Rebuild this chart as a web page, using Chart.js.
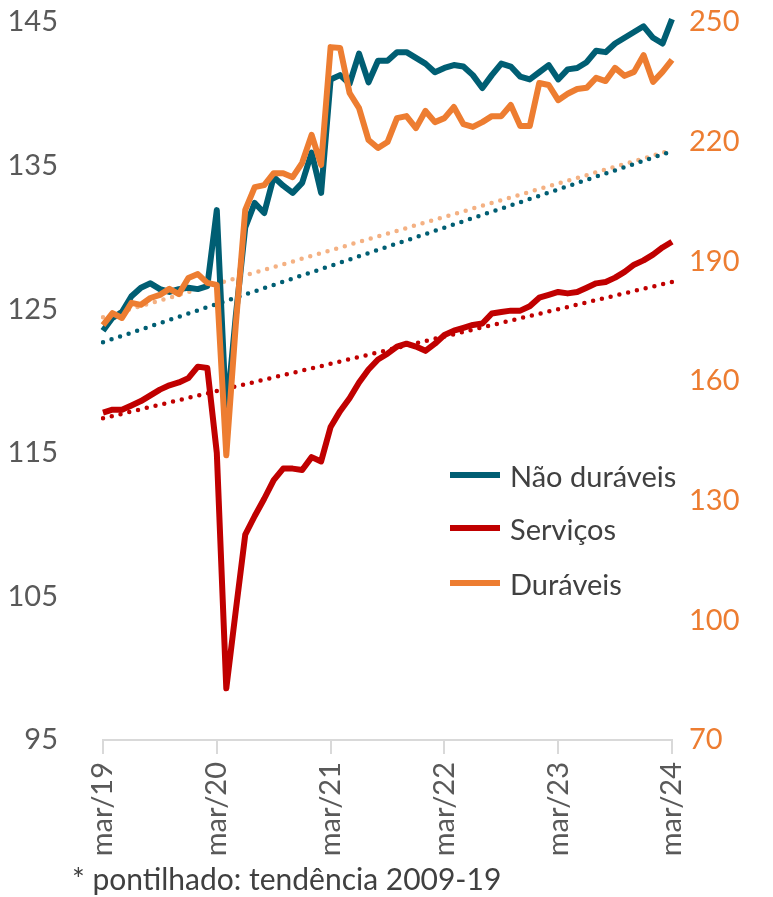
<!DOCTYPE html>
<html lang="pt">
<head>
<meta charset="utf-8">
<title>Consumo por tipo</title>
<script src="https://cdn.jsdelivr.net/npm/chart.js@4.4.1/dist/chart.umd.min.js"></script>
<style>
  body { margin: 0; background: #fff; }
  #wrap { position: relative; width: 773px; height: 897px; }
  #chart { position: absolute; left: 0; top: 0; }
  .legend-item {
    position: absolute; left: 450px; height: 40px;
    display: flex; align-items: center;
    font-family: Lato, sans-serif; font-size: 29px; color: #404040;
  }
  .legend-item .swatch { width: 50px; height: 6px; margin-right: 10px; }
  #note {
    position: absolute; left: 72px; top: 860px;
    font-family: Lato, sans-serif; font-size: 30px; color: #404040;
    white-space: nowrap;
  }
</style>
</head>
<body>
<div id="wrap">
  <canvas id="chart" width="773" height="897"></canvas>
  <div class="legend-item" style="top:455px"><span class="swatch" style="background:#005E73"></span>Não duráveis</div>
  <div class="legend-item" style="top:508px"><span class="swatch" style="background:#C00000"></span>Serviços</div>
  <div class="legend-item" style="top:563px"><span class="swatch" style="background:#ED7D31"></span>Duráveis</div>
  <div id="note">* pontilhado: tendência 2009-19</div>
</div>
<script>
// months mar/19 .. mar/24
const categories = [
  'mar/19','abr/19','mai/19','jun/19','jul/19','ago/19','set/19','out/19','nov/19','dez/19','jan/20','fev/20',
  'mar/20','abr/20','mai/20','jun/20','jul/20','ago/20','set/20','out/20','nov/20','dez/20','jan/21','fev/21',
  'mar/21','abr/21','mai/21','jun/21','jul/21','ago/21','set/21','out/21','nov/21','dez/21','jan/22','fev/22',
  'mar/22','abr/22','mai/22','jun/22','jul/22','ago/22','set/22','out/22','nov/22','dez/22','jan/23','fev/23',
  'mar/23','abr/23','mai/23','jun/23','jul/23','ago/23','set/23','out/23','nov/23','dez/23','jan/24','fev/24',
  'mar/24'
];

// left axis
const naoDuraveis = [
  123.5, 124.4, 124.8, 125.9, 126.5, 126.8, 126.4, 126.2, 126.4, 126.5, 126.4, 126.6,
  131.9, 117.5, 124.5, 130.7, 132.4, 131.7, 134.2, 133.6, 133.1, 133.8, 135.9, 133.1,
  141.0, 141.3, 140.7, 142.8, 140.8, 142.3, 142.3, 142.9, 142.9, 142.5, 142.1, 141.5,
  141.8, 142.0, 141.9, 141.3, 140.4, 141.3, 142.1, 141.9, 141.2, 141.0, 141.5, 142.0,
  141.0, 141.7, 141.8, 142.2, 143.0, 142.9, 143.5, 143.9, 144.3, 144.7, 143.9, 143.5,
  145.2
];
const servicos = [
  117.8, 118.0, 118.0, 118.3, 118.6, 119.0, 119.4, 119.7, 119.9, 120.2, 121.0, 120.9,
  115.0, 98.6, 104.0, 109.3, 110.6, 111.8, 113.1, 113.9, 113.9, 113.8, 114.7, 114.4,
  116.8, 117.9, 118.8, 119.9, 120.8, 121.5, 121.9, 122.4, 122.6, 122.4, 122.1, 122.6,
  123.2, 123.5, 123.7, 123.9, 124.0, 124.7, 124.8, 124.9, 124.9, 125.2, 125.8, 126.0,
  126.2, 126.1, 126.2, 126.5, 126.8, 126.9, 127.2, 127.6, 128.1, 128.4, 128.8, 129.3,
  129.7
];
// right axis
const duraveis = [
  174.0, 177.0, 175.8, 179.6, 179.1, 180.8, 181.6, 183.1, 181.8, 185.8, 186.8, 184.6,
  184.1, 141.4, 174.0, 202.9, 208.6, 209.1, 212.1, 212.1, 211.1, 214.7, 221.7, 214.2,
  243.7, 243.5, 232.2, 228.4, 220.4, 218.4, 219.9, 225.9, 226.4, 223.4, 227.7, 224.9,
  225.9, 228.7, 224.4, 223.7, 224.9, 226.4, 226.4, 229.2, 223.9, 223.9, 234.7, 234.2,
  230.4, 232.0, 233.2, 233.5, 236.0, 235.2, 238.5, 236.5, 237.5, 241.7, 235.0, 237.5,
  240.5
];

// trend 2009-19 (start and end of the window)
const tendNaoDuraveis = [122.7, 136.0];
const tendServicos = [117.4, 126.9];
const tendDuraveis = [176.0, 217.9];

const leftTicks = [95, 105, 115, 125, 135, 145];
const rightTicks = [70, 100, 130, 160, 190, 220, 250];

const TEAL = '#005E73';
const RED = '#C00000';
const ORANGE = '#ED7D31';
const ORANGE_LIGHT = '#F4B183';
const FONT = 'Lato, sans-serif';

function trendPoints(pair) {
  return [
    { x: categories[0], y: pair[0] },
    { x: categories[categories.length - 1], y: pair[1] },
  ];
}

function solid(data, color, axis, order) {
  return {
    data: data, yAxisID: axis, order: order,
    borderColor: color, borderWidth: 6,
    borderJoinStyle: 'round', pointRadius: 0, tension: 0, clip: false,
  };
}

function dotted(pair, color, axis, order) {
  return {
    data: trendPoints(pair), yAxisID: axis, order: order,
    borderColor: color, borderWidth: 4.5,
    borderDash: [0, 9], borderCapStyle: 'round',
    pointRadius: 0, spanGaps: true, tension: 0,
  };
}

// drop the label overflow padding so the plot box lands where we want it
function noPadV(scale, width) {
  scale.width = width;
  scale.paddingTop = 0;
  scale.paddingBottom = 0;
}

const ctx = document.getElementById('chart').getContext('2d');
new Chart(ctx, {
  type: 'line',
  data: {
    labels: categories,
    datasets: [
      solid(duraveis, ORANGE, 'y1', 1),
      solid(naoDuraveis, TEAL, 'y', 2),
      solid(servicos, RED, 'y', 3),
      dotted(tendNaoDuraveis, TEAL, 'y', 4),
      dotted(tendDuraveis, ORANGE_LIGHT, 'y1', 5),
      dotted(tendServicos, RED, 'y', 6),
    ],
  },
  options: {
    responsive: false,
    animation: false,
    layout: { padding: { top: 22, left: 0, right: 0, bottom: 0 } },
    plugins: { legend: { display: false }, tooltip: { enabled: false } },
    scales: {
      x: {
        type: 'category',
        offset: false,
        border: { display: true, color: '#D9D9D9', width: 2 },
        grid: {
          drawOnChartArea: false,
          drawTicks: true,
          tickLength: 14,
          lineWidth: 2,
          color: (c) => (c.index % 12 === 0 ? '#D9D9D9' : 'rgba(0,0,0,0)'),
          tickColor: (c) => (c.index % 12 === 0 ? '#D9D9D9' : 'rgba(0,0,0,0)'),
        },
        ticks: {
          autoSkip: false,
          maxRotation: 90,
          minRotation: 90,
          padding: 8,
          color: '#595959',
          font: { family: FONT, size: 29 },
          callback: (value, index) => (index % 12 === 0 ? categories[index] : ''),
        },
        afterFit: (scale) => {
          scale.height = 157;
          scale.paddingLeft = 0;
          scale.paddingRight = 0;
        },
      },
      y: {
        position: 'left',
        min: leftTicks[0],
        max: leftTicks[leftTicks.length - 1],
        grid: { display: false, drawTicks: false },
        border: { display: false },
        afterBuildTicks: (scale) => { scale.ticks = leftTicks.map((v) => ({ value: v })); },
        ticks: { padding: 45, color: '#595959', font: { family: FONT, size: 29 } },
        afterFit: (scale) => noPadV(scale, 103),
      },
      y1: {
        position: 'right',
        min: rightTicks[0],
        max: rightTicks[rightTicks.length - 1],
        grid: { display: false, drawTicks: false },
        border: { display: false },
        afterBuildTicks: (scale) => { scale.ticks = rightTicks.map((v) => ({ value: v })); },
        ticks: { padding: 17, color: ORANGE, font: { family: FONT, size: 29 } },
        afterFit: (scale) => noPadV(scale, 101),
      },
    },
  },
});
</script>
</body>
</html>
